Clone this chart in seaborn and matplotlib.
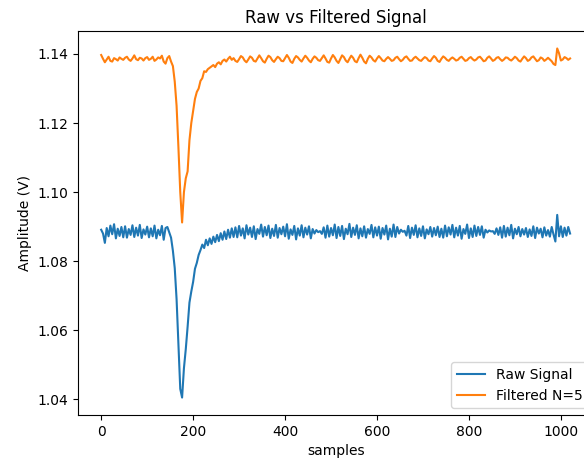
import numpy as np
import matplotlib
matplotlib.use("Agg")
import matplotlib.pyplot as plt
import seaborn as sns

raw_signal = [
    1.0891, 1.0880, 1.0853, 1.0896, 1.0872, 1.0903, 1.0878, 1.0907,
    1.0866, 1.0894, 1.0873, 1.0899, 1.0869, 1.0901, 1.0868, 1.0893,
    1.0876, 1.0904, 1.0870, 1.0897, 1.0874, 1.0905, 1.0867, 1.0892,
    1.0877, 1.0900, 1.0869, 1.0895, 1.0872, 1.0903, 1.0866, 1.0891,
    1.0875, 1.0902, 1.0862, 1.0896, 1.0899, 1.0883,
    1.0868, 1.0830, 1.0780, 1.0690, 1.0560, 1.0430, 1.0405, 1.0490,
    1.0545, 1.0610, 1.0680, 1.0712, 1.0740, 1.0778, 1.0795, 1.0818,
    1.0832, 1.0848, 1.0838, 1.0862, 1.0846, 1.0866, 1.0850, 1.0871,
    1.0855, 1.0876, 1.0858, 1.0881, 1.0862, 1.0886, 1.0864, 1.0891,
    1.0868, 1.0895, 1.0870,
    1.0898, 1.0869, 1.0902, 1.0874, 1.0895, 1.0866, 1.0904, 1.0877,
    1.0897, 1.0870, 1.0901, 1.0864, 1.0893, 1.0879, 1.0906, 1.0871,
    1.0899, 1.0875, 1.0903, 1.0867, 1.0894, 1.0873, 1.0905, 1.0868,
    1.0896, 1.0878, 1.0900, 1.0872, 1.0907, 1.0865, 1.0892, 1.0876,
    1.0902, 1.0863, 1.0895, 1.0874, 1.0904, 1.0869, 1.0897, 1.0877,
    1.0901, 1.0866, 1.0893, 1.0880, 1.0890, 1.0884, 1.0887, 1.0879,
    1.0898, 1.0868, 1.0903, 1.0871, 1.0896, 1.0875, 1.0906, 1.0867,
    1.0899, 1.0873, 1.0902, 1.0864, 1.0894, 1.0878, 1.0908, 1.0870,
    1.0897, 1.0876, 1.0904, 1.0866, 1.0895, 1.0872, 1.0901, 1.0868,
    1.0893, 1.0879, 1.0905, 1.0869, 1.0898, 1.0874, 1.0900, 1.0865,
    1.0896, 1.0877, 1.0903, 1.0863, 1.0894, 1.0871, 1.0906, 1.0870,
    1.0899, 1.0880, 1.0891, 1.0885, 1.0888, 1.0874, 1.0902, 1.0867,
    1.0897, 1.0876, 1.0904, 1.0869, 1.0895, 1.0873, 1.0901, 1.0866,
    1.0892, 1.0878, 1.0899, 1.0871, 1.0896, 1.0875, 1.0900, 1.0870,
    1.0894, 1.0868, 1.0903, 1.0872, 1.0898, 1.0877, 1.0905, 1.0869,
    1.0897, 1.0874, 1.0902, 1.0865, 1.0893, 1.0879, 1.0906, 1.0867,
    1.0895, 1.0870, 1.0903, 1.0873, 1.0899, 1.0876, 1.0901, 1.0868,
    1.0891, 1.0883, 1.0889, 1.0886, 1.0887, 1.0879, 1.0895, 1.0876,
    1.0898, 1.0868, 1.0902, 1.0871, 1.0897, 1.0875, 1.0905, 1.0866,
    1.0894, 1.0878, 1.0899, 1.0872, 1.0893, 1.0877, 1.0896, 1.0870,
    1.0892, 1.0873, 1.0901, 1.0867, 1.0897, 1.0880, 1.0894, 1.0869,
    1.0898, 1.0874, 1.0890, 1.0871, 1.0899, 1.0877, 1.0857, 1.0934,
    1.0872, 1.0901, 1.0870, 1.0897, 1.0874, 1.0899, 1.0880,
]

filtered_signal = [
    1.1397, 1.1386, 1.1376, 1.1384, 1.1392, 1.1380, 1.1378, 1.1388,
    1.1385, 1.1381, 1.1390, 1.1386, 1.1383, 1.1389, 1.1392, 1.1384,
    1.1380, 1.1387, 1.1396, 1.1385, 1.1382, 1.1389, 1.1387, 1.1381,
    1.1388, 1.1391, 1.1383, 1.1386, 1.1392, 1.1380, 1.1384, 1.1390,
    1.1387, 1.1395, 1.1378, 1.1372, 1.1388,
    1.1394, 1.1378, 1.1365, 1.1320, 1.1250, 1.1130, 1.1000, 1.0912,
    1.1000, 1.1040, 1.1060, 1.1150, 1.1200, 1.1235, 1.1270, 1.1290,
    1.1300, 1.1322, 1.1330, 1.1350, 1.1348, 1.1356, 1.1360, 1.1364,
    1.1368, 1.1362, 1.1372, 1.1376, 1.1370, 1.1380, 1.1384, 1.1378,
    1.1386, 1.1392, 1.1383, 1.1388,
    1.1380, 1.1377, 1.1385, 1.1394, 1.1390, 1.1381, 1.1376, 1.1384,
    1.1393, 1.1389, 1.1380, 1.1378, 1.1387, 1.1396, 1.1388, 1.1379,
    1.1375, 1.1386, 1.1395, 1.1391, 1.1382, 1.1377, 1.1385, 1.1392,
    1.1388, 1.1380, 1.1379, 1.1388, 1.1397, 1.1389, 1.1378, 1.1374,
    1.1386, 1.1394, 1.1390, 1.1383, 1.1378, 1.1387, 1.1395, 1.1389,
    1.1381, 1.1376, 1.1386, 1.1393, 1.1389, 1.1382, 1.1380, 1.1388,
    1.1396, 1.1387, 1.1377, 1.1375, 1.1387, 1.1397, 1.1390, 1.1380,
    1.1374, 1.1385, 1.1396, 1.1391, 1.1381, 1.1376, 1.1386, 1.1395,
    1.1389, 1.1379, 1.1376, 1.1388, 1.1398, 1.1389, 1.1378, 1.1373,
    1.1386, 1.1395, 1.1390, 1.1382, 1.1378, 1.1387, 1.1394, 1.1388,
    1.1381, 1.1379, 1.1386, 1.1391, 1.1386, 1.1380, 1.1382, 1.1389,
    1.1392, 1.1385, 1.1379, 1.1383, 1.1390, 1.1393, 1.1386, 1.1380,
    1.1381, 1.1388, 1.1392, 1.1387, 1.1382, 1.1380, 1.1386, 1.1391,
    1.1388, 1.1381, 1.1379, 1.1387, 1.1394, 1.1389, 1.1380, 1.1377,
    1.1386, 1.1393, 1.1389, 1.1383, 1.1380, 1.1386, 1.1390, 1.1386,
    1.1381, 1.1383, 1.1389, 1.1392, 1.1386, 1.1380, 1.1382, 1.1388,
    1.1391, 1.1385, 1.1381, 1.1384, 1.1390, 1.1392, 1.1386, 1.1379,
    1.1381, 1.1389, 1.1393, 1.1387, 1.1380, 1.1383, 1.1389, 1.1391,
    1.1385, 1.1380, 1.1384, 1.1390, 1.1389, 1.1384, 1.1381, 1.1386,
    1.1392, 1.1388, 1.1381, 1.1378, 1.1386, 1.1393, 1.1388, 1.1380,
    1.1383, 1.1390, 1.1393, 1.1386, 1.1379, 1.1382, 1.1390, 1.1387,
    1.1380, 1.1384, 1.1389, 1.1384, 1.1379, 1.1371, 1.1368, 1.1416,
    1.1402, 1.1381, 1.1384, 1.1391, 1.1388, 1.1383, 1.1387,
]

sample_step = 4
samples = np.arange(len(raw_signal)) * sample_step

fig = plt.figure(figsize=(5.84, 4.62), dpi=100)
ax = fig.add_axes([0.1330, 0.1017, 0.8858, 0.8312])

sns.lineplot(x=samples, y=raw_signal, ax=ax, label="Raw Signal",
             color="#1f77b4", linewidth=1.5)
sns.lineplot(x=samples, y=filtered_signal, ax=ax, label="Filtered N=5",
             color="#ff7f0e", linewidth=1.5)

ax.set_xlim(-51.15, 1074.15)
ax.set_title("Raw vs Filtered Signal")
ax.set_xlabel("samples")
ax.set_ylabel("Amplitude (V)")
ax.legend(loc="lower right")

fig.savefig("out.png", dpi=100)
